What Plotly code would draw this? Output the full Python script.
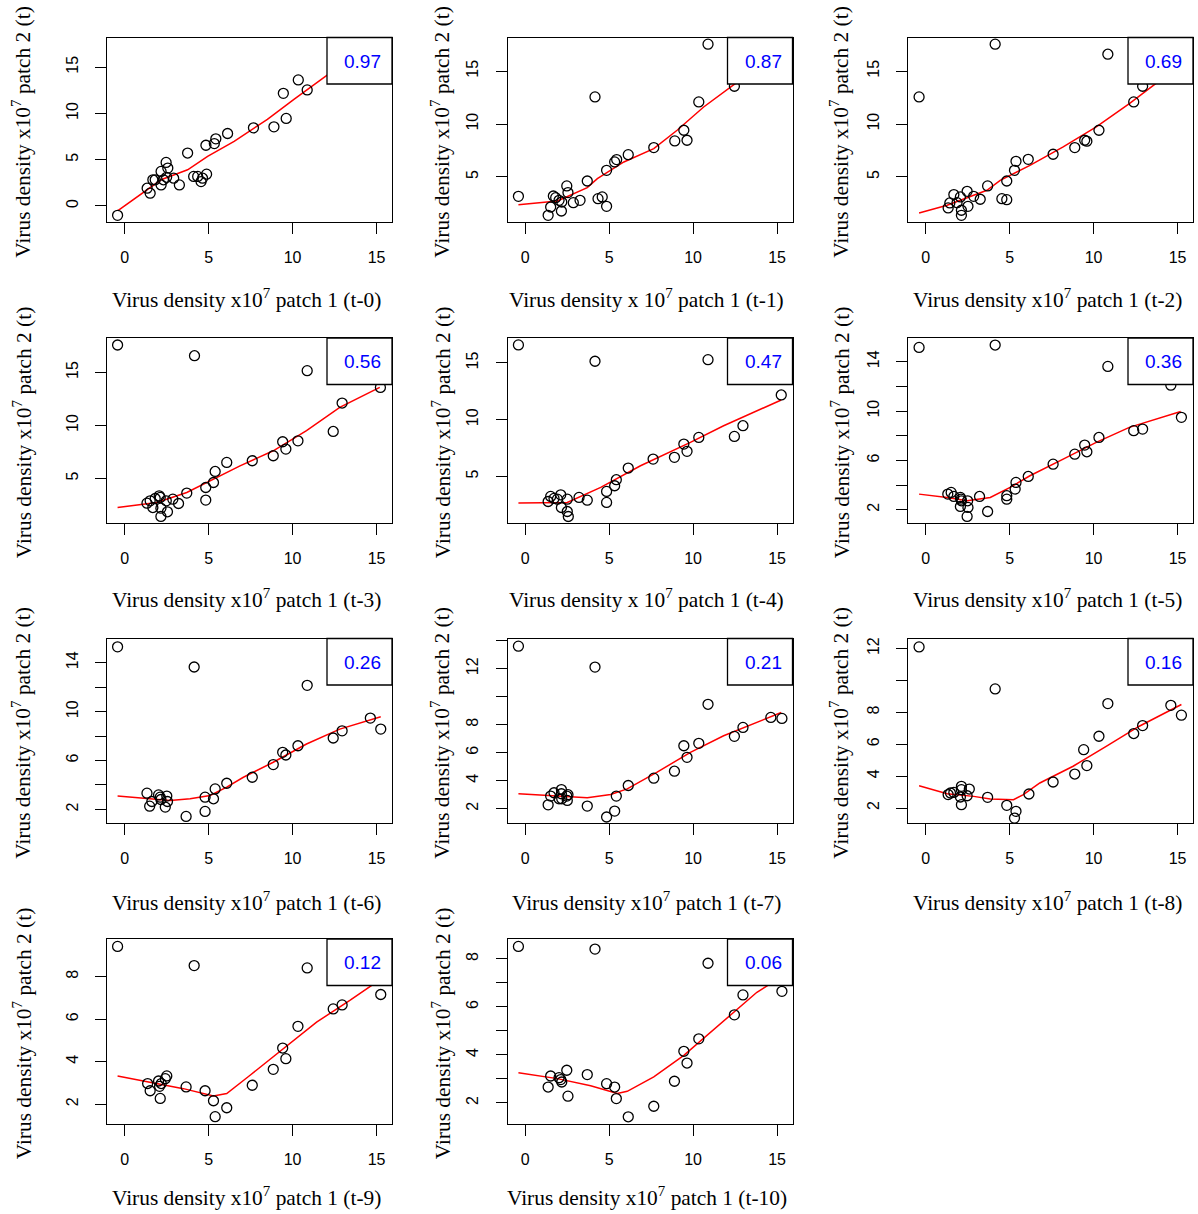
import plotly.graph_objects as go

W, H = 1198, 1214

# ---------------- data ----------------
# t-0
x_t0 = [-0.42, 1.34, 1.52, 1.68, 1.82, 2.17, 2.17, 2.31, 2.47, 2.57, 2.5, 2.92, 3.26, 3.75, 4.11, 4.35,
        4.55, 4.64, 4.88, 4.84, 5.34, 5.43, 6.13, 7.67, 8.89, 9.45, 9.62, 10.34, 10.87]
y_t0 = [-1.01, 1.92, 1.38, 2.83, 2.83, 2.28, 3.73, 2.83, 4.71, 4.09, 3.1, 3.0, 2.28, 5.72, 3.19, 3.19,
        2.64, 3.0, 3.44, 6.56, 6.74, 7.25, 7.83, 8.44, 8.55, 12.17, 9.46, 13.62, 12.54]
fx_t0 = [-0.4, 1.19, 2.17, 2.96, 3.75, 4.94, 6.52, 8.5, 10.08, 12.06, 12.6]
fy_t0 = [-0.51, 1.56, 2.83, 3.37, 3.91, 5.36, 6.99, 9.35, 11.52, 14.13, 14.8]

# t-1
x_t1 = [-0.4, 1.37, 1.52, 1.68, 1.82, 2.02, 2.16, 2.18, 2.48, 2.55, 2.87, 3.27, 3.7, 4.16, 4.34, 4.59,
        4.85, 4.85, 5.33, 5.45, 6.14, 7.66, 8.91, 9.45, 9.64, 10.34, 10.89, 12.46]
y_t1 = [3.17, 1.37, 2.16, 3.2, 3.04, 2.79, 1.78, 2.63, 4.15, 3.52, 2.57, 2.79, 4.62, 12.57, 2.95, 3.11,
        2.22, 5.63, 6.42, 6.64, 7.11, 7.78, 8.41, 9.42, 8.47, 12.1, 17.56, 13.58]
fx_t1 = [-0.4, 1.92, 3.7, 4.3, 5.88, 7.66, 9.05, 10.63, 12.51, 13.0]
fy_t1 = [2.38, 2.73, 3.99, 4.84, 6.42, 7.68, 9.42, 11.62, 13.83, 14.3]

# t-2
x_t2 = [-0.39, 1.34, 1.44, 1.68, 1.87, 2.07, 2.13, 2.13, 2.47, 2.52, 2.86, 3.25, 3.69, 4.14, 4.54, 4.83,
        4.83, 5.29, 5.38, 6.11, 7.59, 8.88, 9.47, 9.6, 10.32, 10.85, 12.39, 12.92]
y_t2 = [12.57, 2.07, 2.54, 3.33, 2.57, 3.11, 1.85, 1.37, 3.64, 2.22, 3.17, 2.89, 4.15, 17.56, 2.95, 2.85,
        4.62, 5.63, 6.48, 6.67, 7.15, 7.78, 8.47, 8.38, 9.42, 16.61, 12.1, 13.58]
fx_t2 = [-0.39, 1.28, 3.65, 4.44, 6.21, 8.19, 10.16, 12.13, 13.7, 14.5]
fy_t2 = [1.59, 2.32, 3.74, 4.68, 6.1, 7.84, 9.73, 11.94, 13.83, 14.8]

# t-3
x_t3 = [-0.42, 1.33, 1.52, 1.68, 1.82, 2.06, 2.12, 2.16, 2.16, 2.55, 2.48, 2.87, 3.21, 3.7, 4.16, 4.83,
        4.83, 5.29, 5.39, 6.08, 7.6, 8.85, 9.41, 9.6, 10.32, 10.87, 12.42, 12.95, 15.23]
y_t3 = [17.58, 2.67, 2.89, 2.26, 3.11, 3.36, 3.21, 2.2, 1.42, 1.86, 2.89, 3.05, 2.64, 3.62, 16.57, 2.96,
        4.15, 4.62, 5.66, 6.51, 6.67, 7.14, 8.46, 7.77, 8.55, 15.16, 9.43, 12.11, 13.58]
fx_t3 = [-0.42, 1.92, 3.7, 4.89, 6.87, 8.85, 10.83, 12.81, 15.19]
fy_t3 = [2.26, 2.74, 3.68, 4.62, 6.19, 7.61, 9.5, 11.7, 13.58]

# t-4
x_t4 = [-0.4, 1.37, 1.52, 1.72, 1.92, 2.12, 2.16, 2.51, 2.51, 2.57, 3.21, 3.7, 4.16, 4.85, 4.85, 5.33,
        5.43, 6.14, 7.62, 8.89, 9.45, 9.64, 10.34, 10.89, 12.46, 12.97, 15.25]
y_t4 = [16.59, 2.79, 3.24, 3.06, 3.0, 3.38, 2.26, 3.0, 1.91, 1.47, 3.15, 2.91, 15.15, 3.68, 2.71, 4.18,
        4.71, 5.74, 6.53, 6.68, 7.85, 7.21, 8.44, 15.29, 8.53, 9.47, 12.18]
fx_t4 = [-0.4, 2.51, 4.5, 6.87, 9.84, 11.82, 15.25]
fy_t4 = [2.65, 2.71, 4.03, 5.94, 8.0, 9.47, 11.74]

# t-5
x_t5 = [-0.39, 1.32, 1.52, 1.68, 2.07, 2.11, 2.13, 2.07, 2.5, 2.52, 2.47, 3.21, 3.69, 4.14, 4.83, 4.83,
        5.33, 5.38, 6.11, 7.59, 8.88, 9.47, 9.6, 10.32, 10.85, 12.39, 12.92, 14.6, 15.23]
y_t5 = [15.16, 3.27, 3.41, 3.08, 3.0, 2.86, 2.73, 2.27, 2.73, 2.19, 1.46, 3.08, 1.86, 15.35, 2.86, 3.14,
        3.68, 4.22, 4.7, 5.7, 6.51, 7.24, 6.7, 7.86, 13.62, 8.41, 8.54, 12.1, 9.49]
fx_t5 = [-0.39, 1.28, 2.47, 3.85, 5.03, 6.21, 8.19, 10.16, 12.13, 15.19]
fy_t5 = [3.27, 3.0, 2.73, 3.0, 3.81, 4.76, 6.11, 7.46, 8.68, 9.97]

# t-6
x_t6 = [-0.42, 1.33, 1.49, 1.62, 2.02, 2.12, 2.16, 2.42, 2.51, 2.55, 3.66, 4.14, 4.79, 4.79, 5.29, 5.39,
        6.08, 7.6, 8.85, 9.41, 9.6, 10.32, 10.87, 12.42, 12.95, 14.63, 15.25]
y_t6 = [15.3, 3.33, 2.27, 2.65, 3.19, 3.0, 2.81, 2.19, 3.09, 2.65, 1.43, 13.65, 3.0, 1.84, 2.87, 3.68,
        4.14, 4.63, 5.67, 6.67, 6.45, 7.21, 12.15, 7.84, 8.43, 9.47, 8.57]
fx_t6 = [-0.42, 1.33, 2.71, 3.9, 5.09, 6.08, 7.07, 8.85, 10.83, 12.81, 15.25]
fy_t6 = [3.09, 2.87, 2.73, 2.87, 3.14, 3.82, 4.63, 5.86, 7.35, 8.57, 9.58]

# t-7
x_t7 = [-0.4, 1.37, 1.52, 1.72, 2.02, 2.16, 2.16, 2.18, 2.48, 2.51, 2.55, 3.7, 4.16, 4.85, 5.33, 5.43,
        6.14, 7.66, 8.89, 9.45, 9.64, 10.34, 10.89, 12.46, 12.97, 14.63, 15.29]
y_t7 = [13.61, 2.28, 2.9, 3.14, 2.71, 3.37, 3.07, 2.71, 2.9, 2.59, 3.0, 2.19, 12.12, 1.41, 1.83, 2.9,
        3.66, 4.18, 4.68, 6.5, 5.67, 6.67, 9.46, 7.17, 7.81, 8.52, 8.45]
fx_t7 = [-0.4, 1.92, 3.7, 5.09, 6.08, 7.86, 9.84, 11.82, 13.8, 15.25]
fy_t7 = [3.07, 2.9, 2.78, 3.02, 3.42, 4.61, 6.03, 7.21, 8.16, 8.87]

# t-8
x_t8 = [-0.39, 1.34, 1.48, 1.68, 2.07, 2.13, 2.13, 2.13, 2.47, 2.6, 3.69, 4.14, 4.83, 5.38, 5.29, 6.15,
        7.59, 8.88, 9.41, 9.6, 10.32, 10.85, 12.39, 12.92, 14.6, 15.23]
y_t8 = [12.1, 2.84, 2.94, 2.98, 2.69, 3.36, 3.15, 2.21, 2.77, 3.19, 2.67, 9.47, 2.17, 1.79, 1.37, 2.88,
        3.63, 4.13, 5.66, 4.66, 6.5, 8.55, 6.67, 7.17, 8.44, 7.82]
fx_t8 = [-0.39, 1.28, 2.86, 3.85, 5.23, 5.82, 6.8, 8.78, 10.75, 12.72, 15.23]
fy_t8 = [3.4, 2.9, 2.73, 2.56, 2.52, 2.84, 3.57, 4.62, 5.87, 7.13, 8.49]

# t-9
x_t9 = [-0.42, 1.37, 1.52, 2.02, 2.08, 2.12, 2.18, 2.42, 2.51, 3.66, 4.14, 4.79, 5.29, 5.39, 6.08, 7.6,
        8.85, 9.41, 9.6, 10.32, 10.87, 12.42, 12.95, 15.25]
y_t9 = [9.42, 2.97, 2.63, 3.09, 2.84, 2.27, 2.97, 3.2, 3.33, 2.81, 8.52, 2.63, 2.16, 1.41, 1.83, 2.89,
        3.64, 4.64, 4.14, 5.66, 8.41, 6.48, 6.67, 7.16]
fx_t9 = [-0.42, 1.92, 3.5, 5.29, 6.08, 7.47, 9.45, 11.43, 13.41, 14.69, 15.25]
fy_t9 = [3.33, 2.97, 2.73, 2.38, 2.5, 3.36, 4.61, 5.86, 6.88, 7.58, 8.0]

# t-10
x_t10 = [-0.4, 1.37, 1.52, 2.02, 2.12, 2.18, 2.48, 2.55, 3.7, 4.16, 4.85, 5.33, 5.43, 6.14, 7.66, 8.89,
         9.45, 9.64, 10.34, 10.89, 12.46, 12.97, 15.29]
y_t10 = [8.52, 2.66, 3.12, 3.05, 2.97, 2.87, 3.36, 2.28, 3.18, 8.41, 2.8, 2.66, 2.18, 1.42, 1.86, 2.9,
         4.15, 3.66, 4.67, 7.82, 5.67, 6.5, 6.65]
fx_t10 = [-0.4, 1.92, 3.9, 5.49, 6.08, 7.66, 9.45, 10.83, 12.42, 13.8, 14.59, 15.29]
fy_t10 = [3.26, 3.01, 2.71, 2.39, 2.48, 3.08, 3.98, 4.81, 5.78, 6.61, 6.96, 7.5]

r_values = ["0.97", "0.87", "0.69", "0.56", "0.47", "0.36", "0.26", "0.21", "0.16", "0.12", "0.06"]
lag_labels = ["t-0", "t-1", "t-2", "t-3", "t-4", "t-5", "t-6", "t-7", "t-8", "t-9", "t-10"]
x_sep = ["", " ", "", "", " ", "", "", "", "", "", ""]   # "x10" vs "x 10"

x_ticks = [0, 5, 10, 15]
y_ranges = [[-1.73, 18.2], [0.74, 18.19], [0.74, 18.19], [0.85, 18.24], [0.94, 17.2], [0.97, 15.92],
            [0.89, 15.98], [0.98, 14.16], [1.06, 12.63], [1.09, 9.77], [1.14, 8.83]]
y_tickvals = [[0, 5, 10, 15], [5, 10, 15], [5, 10, 15], [5, 10, 15], [5, 10, 15],
              [2, 4, 6, 8, 10, 12, 14], [2, 4, 6, 8, 10, 12, 14], [2, 4, 6, 8, 10, 12, 14],
              [2, 4, 6, 8, 10, 12], [2, 4, 6, 8], [2, 3, 4, 5, 6, 7, 8]]
y_ticktext = [["0", "5", "10", "15"], ["5", "10", "15"], ["5", "10", "15"], ["5", "10", "15"],
              ["5", "10", "15"],
              ["2", "", "6", "", "10", "", "14"], ["2", "", "6", "", "10", "", "14"],
              ["2", "4", "6", "8", "", "12", ""], ["2", "4", "6", "8", "", "12"],
              ["2", "4", "6", "8"], ["2", "", "4", "", "6", "", "8"]]

xs = [x_t0, x_t1, x_t2, x_t3, x_t4, x_t5, x_t6, x_t7, x_t8, x_t9, x_t10]
ys = [y_t0, y_t1, y_t2, y_t3, y_t4, y_t5, y_t6, y_t7, y_t8, y_t9, y_t10]
fxs = [fx_t0, fx_t1, fx_t2, fx_t3, fx_t4, fx_t5, fx_t6, fx_t7, fx_t8, fx_t9, fx_t10]
fys = [fy_t0, fy_t1, fy_t2, fy_t3, fy_t4, fy_t5, fy_t6, fy_t7, fy_t8, fy_t9, fy_t10]

# ---------------- layout geometry (pixels) ----------------
col_left = [107.0, 507.5, 908.0]
col_w = 285.0
row_top = [37.5, 338.0, 638.5, 939.0]
row_h = 184.5
ytitle_x = [22, 441, 840]
xtitle_y = [298.5, 598.5, 901.5, 1196.5]
box_w, box_h = 65.0, 46.5


def px(xp):
    return xp / W


def py(yp):
    return 1 - yp / H


fig = go.Figure()
layout = dict(width=W, height=H, margin=dict(l=0, r=0, t=0, b=0),
              paper_bgcolor="white", plot_bgcolor="white", showlegend=False)
shapes, annotations = [], []

tick_font = dict(family="Liberation Sans, Arial", size=16, color="black")
title_font = dict(family="Liberation Serif, Times New Roman", size=21.4, color="black")

for i in range(11):
    r, c = divmod(i, 3)
    L, T = col_left[c], row_top[r]
    R, B = L + col_w, T + row_h
    sfx = "" if i == 0 else str(i + 1)
    xa, ya = "x" + sfx, "y" + sfx

    fig.add_trace(go.Scatter(x=fxs[i], y=fys[i], mode="lines", xaxis=xa, yaxis=ya,
                             line=dict(color="red", width=1.5), hoverinfo="skip"))
    fig.add_trace(go.Scatter(x=xs[i], y=ys[i], mode="markers", xaxis=xa, yaxis=ya,
                             marker=dict(symbol="circle-open", size=10, color="black",
                                         line=dict(width=1.3, color="black"))))

    common = dict(showgrid=False, zeroline=False, showline=True, mirror=True,
                  linecolor="black", linewidth=1, ticks="outside", ticklen=11,
                  tickwidth=1, tickcolor="black", tickfont=tick_font, fixedrange=True)
    layout["xaxis" + sfx] = dict(domain=[px(L), px(R)], anchor=ya, range=[-1.05, 15.92],
                                 tickmode="array", tickvals=x_ticks,
                                 ticktext=[str(v) for v in x_ticks],
                                 ticklabelstandoff=10, **common)
    layout["yaxis" + sfx] = dict(domain=[py(B), py(T)], anchor=xa, range=y_ranges[i],
                                 tickmode="array", tickvals=y_tickvals[i],
                                 ticktext=y_ticktext[i], tickangle=-90,
                                 ticklabelstandoff=11, **common)

    # r-value box
    shapes.append(dict(type="rect", xref="paper", yref="paper", layer="above",
                       x0=px(R - box_w), x1=px(R), y0=py(T + box_h), y1=py(T),
                       line=dict(color="black", width=1.3), fillcolor="white"))
    annotations.append(dict(xref="paper", yref="paper", x=px(R - 9), y=py(T + 23.5),
                            xanchor="right", yanchor="middle", showarrow=False,
                            text=r_values[i],
                            font=dict(family="Liberation Sans, Arial", size=19, color="#0000FF")))
    # axis titles
    annotations.append(dict(xref="paper", yref="paper", x=px((L + R) / 2 - 3), y=py(xtitle_y[r]),
                            xanchor="center", yanchor="middle", showarrow=False,
                            text="Virus density x" + x_sep[i] + "10<sup>7</sup> patch 1 (" + lag_labels[i] + ")",
                            font=title_font))
    annotations.append(dict(xref="paper", yref="paper", x=px(ytitle_x[c]), y=py((T + B) / 2 + 2),
                            xanchor="center", yanchor="middle", showarrow=False, textangle=-90,
                            text="Virus density x10<sup>7</sup> patch 2 (t)", font=title_font))

layout["shapes"] = shapes
layout["annotations"] = annotations
fig.update_layout(**layout)
fig.write_html("out.html")
